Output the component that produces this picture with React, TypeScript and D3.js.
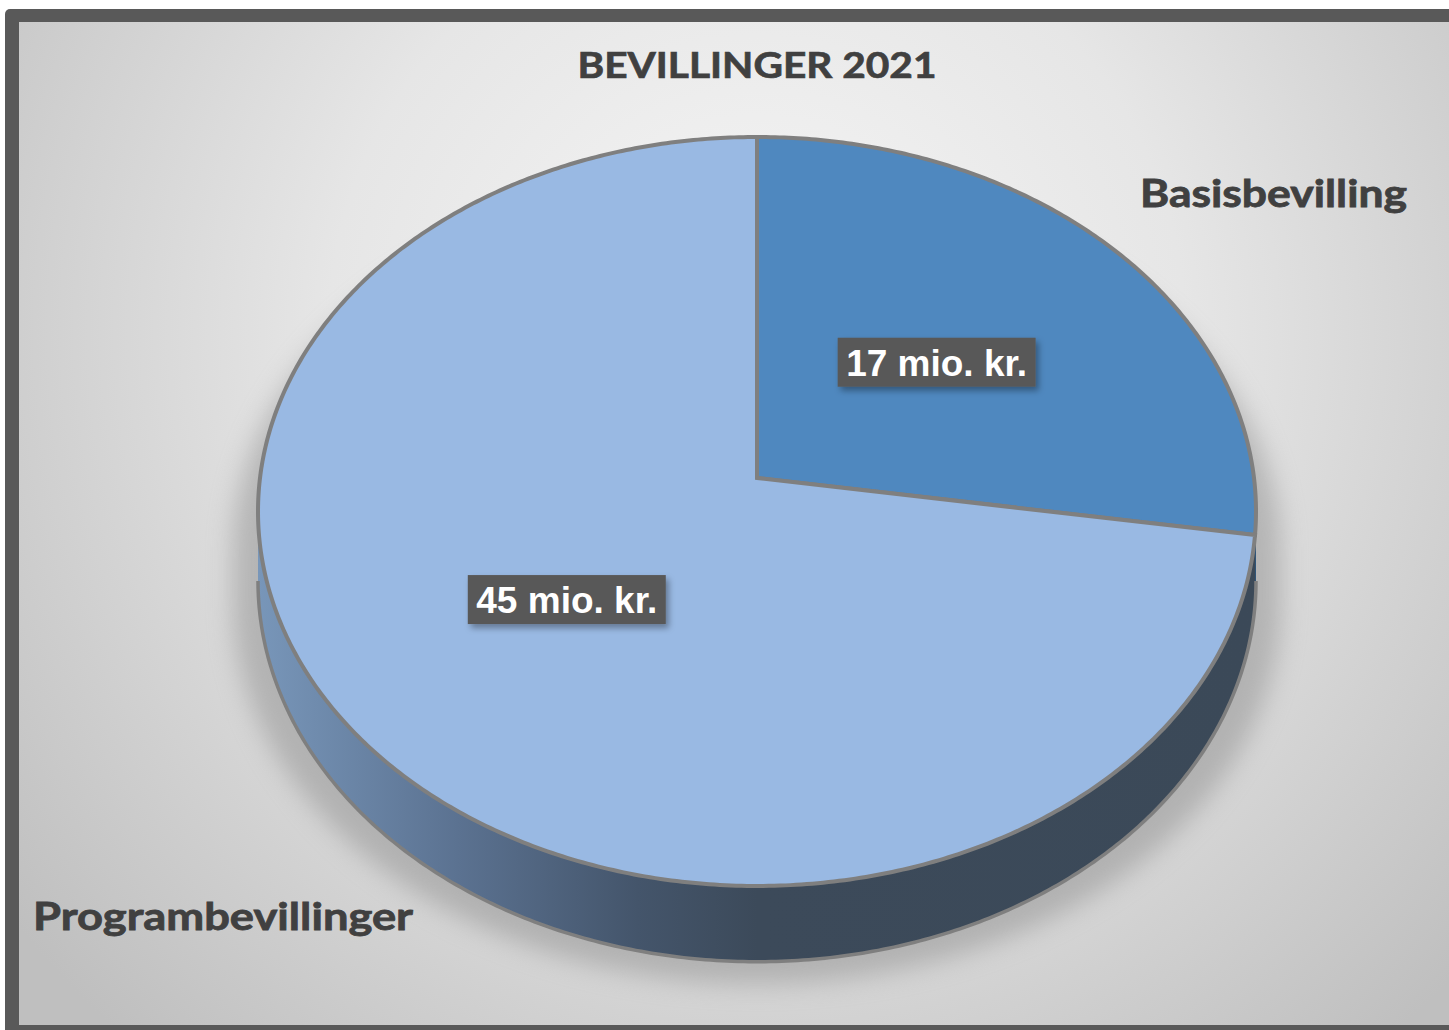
import React from "react";
import * as d3 from "d3";

const categories = ["Basisbevilling", "Programbevillinger"];
const values = [17, 45];
const valueLabels = ["17 mio. kr.", "45 mio. kr."];
const topColors = ["#4f88bf", "#99b9e3"];
const sideColors = ["#2f5477", "url(#sideGrad)"];
const title = "BEVILLINGER 2021";

const W = 1449;
const H = 1030;

// tilted disc seen in perspective
const cx = 757;
const cy = 478;
const rx = 497;
const ry = 371.5;
const persp = 0.0894;
const depth = 69;

const project = (theta: number, r = 1): [number, number] => {
  const u = Math.sin(theta) * r;
  const v = -Math.cos(theta) * r;
  const w = 1 - persp * v;
  return [cx + (rx * u) / w, cy + (ry * v) / w];
};
const projectDown = (theta: number): [number, number] => {
  const [x, y] = project(theta);
  const w = 1 + persp * Math.cos(theta);
  return [x, y + depth / w];
};

const sample = (a0: number, a1: number, f = project) => {
  const n = Math.max(2, Math.ceil(Math.abs(a1 - a0) / 0.01));
  return d3.range(n + 1).map((i) => f(a0 + ((a1 - a0) * i) / n));
};

const line = d3.line<[number, number]>();

const silL = Math.acos(-persp);
const silR = 2 * Math.PI - silL;

export default function App() {
  const arcs = d3
    .pie<number>()
    .sort(null)
    .value((d) => d)(values);

  const topPath = (a: d3.PieArcDatum<number>) =>
    line([[cx, cy], ...sample(a.startAngle, a.endAngle)])! + "Z";

  const sidePath = (a: d3.PieArcDatum<number>) => {
    const s = Math.max(a.startAngle, silL);
    const e = Math.min(a.endAngle, silR);
    if (e <= s) return null;
    const top = sample(s, e);
    const bot = sample(s, e, projectDown).reverse();
    return line([...top, ...bot])! + "Z";
  };

  const bottomEdge = line(sample(silL, silR, projectDown))!;

  // shadow: the whole silhouette pushed down a bit and widened
  const shadowPath =
    line([
      ...sample(-silL, silL).map(([x, y]) => [cx + (x - cx) * 1.05, y + 40] as [number, number]),
      ...sample(silL, silR, projectDown).map(([x, y]) => [cx + (x - cx) * 1.05, y + 22] as [number, number]),
    ])! + "Z";

  return (
    <svg
      width={W}
      height={H}
      style={{ position: "absolute", left: 0, top: 0 }}
      fontFamily="Lato, 'Open Sans', sans-serif"
    >
      <defs>
        <radialGradient id="bg" cx="757" cy="330" r="950" gradientUnits="userSpaceOnUse">
          <stop offset="0" stopColor="#f6f6f6" />
          <stop offset="0.45" stopColor="#e6e6e6" />
          <stop offset="1" stopColor="#bfbfbf" />
        </radialGradient>
        <linearGradient id="sideGrad" x1="258" x2="1256" y1="0" y2="0" gradientUnits="userSpaceOnUse">
          <stop offset="0" stopColor="#7896b9" />
          <stop offset="0.2" stopColor="#5b7291" />
          <stop offset="0.38" stopColor="#44556b" />
          <stop offset="0.5" stopColor="#3c4a5a" />
          <stop offset="1" stopColor="#3b4958" />
        </linearGradient>
        <filter id="blur" x="-20%" y="-20%" width="140%" height="140%">
          <feGaussianBlur stdDeviation="13" />
        </filter>
        <filter id="boxShadow" x="-10%" y="-20%" width="130%" height="160%">
          <feDropShadow dx="3" dy="4" stdDeviation="3" floodColor="#000" floodOpacity="0.35" />
        </filter>
      </defs>

      {/* frame */}
      <rect x={5} y={9} width={W + 20} height={H + 20} rx={5} fill="#595959" />
      <rect x={19} y={22} width={W} height={1003} fill="url(#bg)" />

      <text x={757} y={78} textAnchor="middle" fontSize={36} fontWeight={700} fill="#404040" stroke="#404040" strokeWidth={0.7} textLength={359} lengthAdjust="spacingAndGlyphs">
        {title}
      </text>

      {/* soft shadow behind the pie */}
      <path d={shadowPath} fill="#8c8c8c" opacity={0.5} filter="url(#blur)" />

      {/* sides */}
      {arcs.map((a, i) => {
        const p = sidePath(a);
        return p ? <path key={"s" + i} d={p} fill={sideColors[i]} /> : null;
      })}
      <path d={bottomEdge} fill="none" stroke="#7f7f7f" strokeWidth={3.5} />

      {/* top faces */}
      {arcs.map((a, i) => (
        <path
          key={"t" + i}
          d={topPath(a)}
          fill={topColors[i]}
          stroke="#7f7f7f"
          strokeWidth={4}
          strokeLinejoin="miter"
        />
      ))}

      {/* value labels */}
      {arcs.map((a, i) => {
        const [x, y] = project((a.startAngle + a.endAngle) / 2, 0.49);
        return (
          <g key={"v" + i} transform={`translate(${x},${y})`}>
            <rect x={-99} y={-25} width={198} height={49} fill="#595959" filter="url(#boxShadow)" />
            <text
              y={13}
              textAnchor="middle"
              fontFamily="'Liberation Sans', Arial, sans-serif"
              fontWeight={700}
              fontSize={37}
              fill="#ffffff"
            >
              {valueLabels[i]}
            </text>
          </g>
        );
      })}

      {/* category labels */}
      <text x={1140} y={207} fontSize={38} fontWeight={700} fill="#404040" stroke="#404040" strokeWidth={0.8} textLength={267} lengthAdjust="spacingAndGlyphs">
        {categories[0]}
      </text>
      <text x={33} y={930} fontSize={38} fontWeight={700} fill="#404040" stroke="#404040" strokeWidth={0.8} textLength={380} lengthAdjust="spacingAndGlyphs">
        {categories[1]}
      </text>
    </svg>
  );
}
